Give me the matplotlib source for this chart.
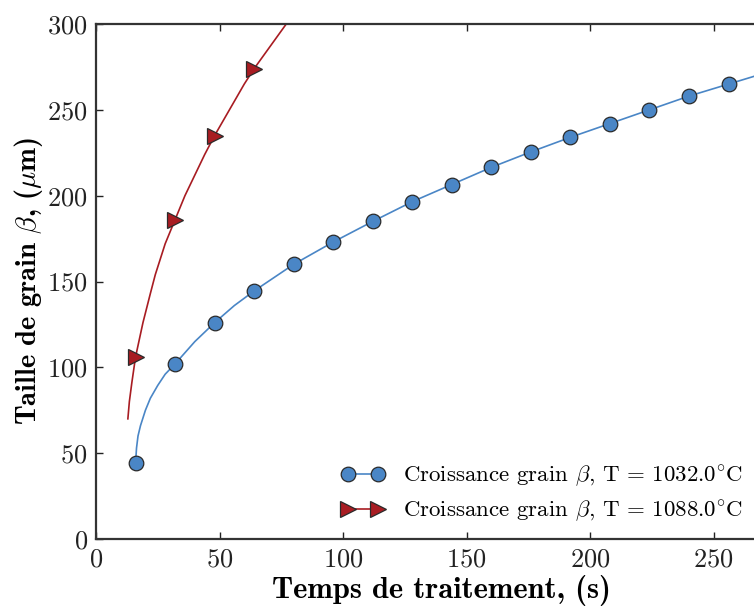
import matplotlib
matplotlib.use("Agg")
import matplotlib.pyplot as plt

# valeurs
temps_points = [16, 32, 48, 64, 80, 96, 112, 128, 144, 160, 176, 192, 208, 224, 240, 256]
taille_1032 = [44, 102, 126, 144.5, 160, 173, 185, 196.5, 206.5, 216.5, 225.5, 234, 242, 250, 258, 265]

temps_rouge = [16, 32, 48, 64]
taille_1088 = [106, 186, 235, 274]

# courbes continues (lissage)
temps_fit_1032 = [16, 16.4, 17, 18, 20, 22, 25, 28, 32, 40, 48, 56, 64, 80, 96, 112, 128,
                  144, 160, 176, 192, 208, 224, 240, 256, 272]
fit_1032 = [44, 53, 60, 66, 75, 82, 89.5, 96, 102, 115, 126, 136, 144.5, 160, 173, 185,
            196.5, 206.5, 216.5, 225.5, 234, 242, 250, 258, 265, 272]

temps_fit_1088 = [12.9, 13.5, 14.5, 16, 19, 22, 24, 26, 28, 32, 36, 40, 44, 48, 52, 56,
                  60, 64, 68, 72, 76, 80]
fit_1088 = [70, 80, 91, 106, 126, 143, 154, 163, 172, 186, 200, 212, 224, 235, 245, 255,
            265, 274, 282, 290, 298, 306]

bleu = "#4a86c6"
rouge = "#a81c22"

plt.rcParams["font.family"] = "serif"
plt.rcParams["font.serif"] = ["cmr10"]
plt.rcParams["mathtext.fontset"] = "cm"
plt.rcParams["axes.formatter.use_mathtext"] = True

fig = plt.figure(figsize=(7.54, 6.09), dpi=100)
ax = fig.add_axes([96 / 754, 70 / 609, 280 * 2.4708 / 754, 515 / 609])

ax.plot(temps_fit_1032, fit_1032, "-", color=bleu, lw=1.2)
ax.plot(temps_fit_1088, fit_1088, "-", color=rouge, lw=1.2)
ax.plot(temps_points, taille_1032, "o", color=bleu, ms=10.5, mec="#2a2a2a", mew=0.9)
ax.plot(temps_rouge, taille_1088, ">", color=rouge, ms=12, mec="#2a2a2a", mew=0.9)

# entrées de légende (ligne + marqueurs)
h1, = ax.plot([], [], "-o", color=bleu, ms=10.5, mec="#2a2a2a", mew=0.9, lw=1.2)
h2, = ax.plot([], [], "->", color=rouge, ms=12, mec="#2a2a2a", mew=0.9, lw=1.2)
leg = ax.legend([h1, h2],
                [r"Croissance grain $\beta$, T = $1032.0^{\circ}$C",
                 r"Croissance grain $\beta$, T = $1088.0^{\circ}$C"],
                loc="lower right", bbox_to_anchor=(743 / 754, 85 / 609),
                bbox_transform=fig.transFigure,
                frameon=False, numpoints=2, handlelength=1.9,
                handletextpad=0.8, labelspacing=0.4, borderaxespad=0.0,
                borderpad=0.0, prop={"family": "cmr10", "size": 16.5})

ax.set_xlim(0, 280)
ax.set_ylim(0, 300)
ax.set_xticks([0, 50, 100, 150, 200, 250])
ax.set_yticks([0, 50, 100, 150, 200, 250, 300])

ax.tick_params(direction="in", length=5, width=1, top=True, right=True,
               labelsize=19, pad=6, colors="#222222")
for s in ax.spines.values():
    s.set_linewidth(1.6)
    s.set_color("#333333")

ax.set_xlabel("Temps de traitement, (s)", fontsize=22, fontfamily="cmb10", labelpad=3)
ax.set_ylabel(r"Taille de grain $\beta$, ($\mu$m)", fontsize=20.5, fontfamily="cmb10", labelpad=1.5)

fig.savefig("out.png", dpi=100)
